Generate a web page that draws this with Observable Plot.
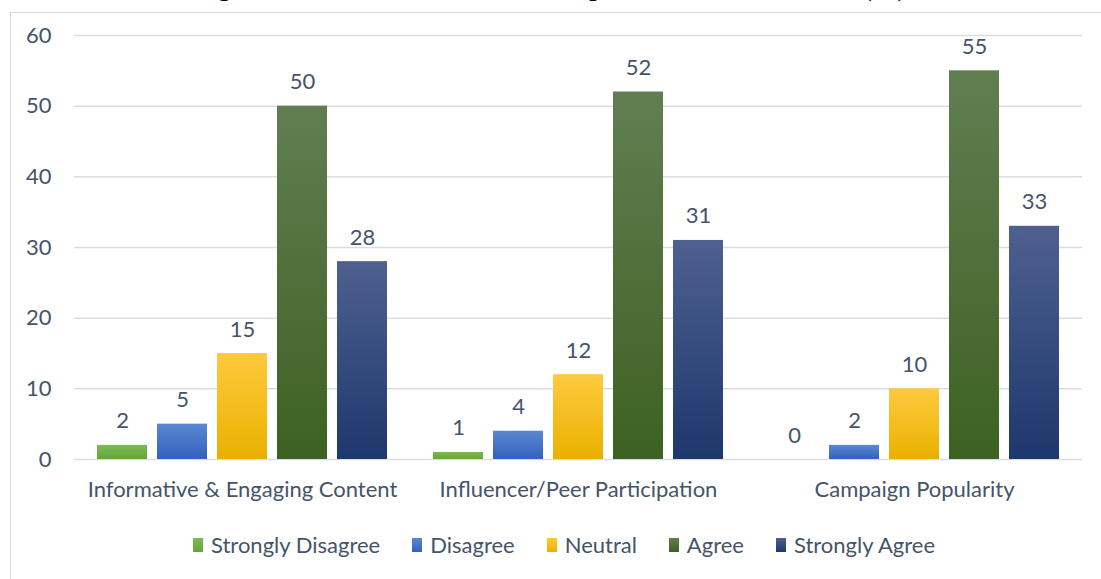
<!DOCTYPE html>
<html>
<head>
<meta charset="utf-8">
<script src="https://cdn.jsdelivr.net/npm/d3@7"></script>
<script src="https://cdn.jsdelivr.net/npm/@observablehq/plot@0.6"></script>
<style>
  html, body { margin: 0; padding: 0; background: #fff; }
  #wrap { position: relative; width: 1101px; height: 579px; overflow: hidden; background: #fff; font-family: Lato, "Noto Sans", sans-serif; }
  #frame { position: absolute; left: 10px; top: 12px; width: 1100px; height: 620px; border: 1px solid #d9d9d9; box-sizing: border-box; }
  #title { position: absolute; left: 0; top: -27px; width: 1101px; text-align: center; font-family: "Liberation Serif", serif; font-weight: bold; font-size: 26px; color: #000; white-space: nowrap; }
  #chart { position: absolute; left: 0; top: 0; }
  #legend { position: absolute; left: 193px; top: 531px; display: flex; align-items: center; font-size: 22px; color: #44546a; white-space: nowrap; }
  .item { display: flex; align-items: center; margin-right: 32px; }
  .sw { width: 10px; height: 14px; margin-right: 8px; }
</style>
</head>
<body>
<div id="wrap">
  <div id="frame"></div>
  <div id="title">Figure 4: Drivers of Student Participation Motivation Level (%)</div>
  <div id="chart"></div>
  <div id="legend"></div>
</div>
<script>
const categories = ["Informative & Engaging Content", "Influencer/Peer Participation", "Campaign Popularity"];
const levels = ["Strongly Disagree", "Disagree", "Neutral", "Agree", "Strongly Agree"];
const stronglyDisagree = [2, 1, 0];
const disagree = [5, 4, 2];
const neutral = [15, 12, 10];
const agree = [50, 52, 55];
const stronglyAgree = [28, 31, 33];
const yTicks = [0, 10, 20, 30, 40, 50, 60];
const gradTop = ["#7db957", "#5b87d2", "#ffca3e", "#617e51", "#4f6090"];
const gradBottom = ["#66a43b", "#3262bf", "#e8b100", "#3d6122", "#1d386c"];

const seriesValues = [stronglyDisagree, disagree, neutral, agree, stronglyAgree];
const data = [];
categories.forEach((c, ci) => {
  levels.forEach((l, li) => data.push({category: c, level: l, value: seriesValues[li][ci]}));
});

const ink = "#44546a";
const gridColor = "#d9dde3";

const defs = () => {
  const svgNS = "http://www.w3.org/2000/svg";
  const d = document.createElementNS(svgNS, "defs");
  levels.forEach((l, i) => {
    const g = document.createElementNS(svgNS, "linearGradient");
    g.setAttribute("id", "grad" + i);
    g.setAttribute("x1", "0"); g.setAttribute("y1", "0");
    g.setAttribute("x2", "0"); g.setAttribute("y2", "1");
    const s1 = document.createElementNS(svgNS, "stop");
    s1.setAttribute("offset", "0"); s1.setAttribute("stop-color", gradTop[i]);
    const s2 = document.createElementNS(svgNS, "stop");
    s2.setAttribute("offset", "1"); s2.setAttribute("stop-color", gradBottom[i]);
    g.appendChild(s1); g.appendChild(s2);
    d.appendChild(g);
  });
  const gEl = document.createElementNS(svgNS, "g");
  gEl.appendChild(d);
  return gEl;
};

const plot = Plot.plot({
  width: 1101,
  height: 510,
  marginLeft: 74,
  marginRight: 19,
  marginTop: 35,
  marginBottom: 51,
  style: {fontFamily: "Lato, 'Noto Sans', sans-serif", fontSize: "22px", color: ink, background: "transparent"},
  fx: {domain: categories, padding: 0, label: null},
  x: {domain: levels, paddingInner: 0.167, paddingOuter: 0.383, axis: null},
  y: {domain: [0, 60], label: null},
  color: {domain: levels, range: levels.map((l, i) => `url(#grad${i})`)},
  marks: [
    defs,
    Plot.gridY(yTicks, {stroke: gridColor, strokeOpacity: 1, strokeWidth: 1.5}),
    Plot.barY(data, {fx: "category", x: "level", y: "value", fill: "level"}),
    Plot.text(data, {fx: "category", x: "level", y: "value", text: d => String(d.value), lineAnchor: "bottom", dy: -17, fill: ink, fontSize: 22}),
    Plot.axisY(yTicks, {tickSize: 0, tickPadding: 23, fill: ink, fontSize: 22, label: null}),
    Plot.axisFx({anchor: "bottom", tickSize: 0, tickPadding: 22, fill: ink, fontSize: 22, label: null})
  ]
});
document.getElementById("chart").appendChild(plot);

const legend = document.getElementById("legend");
levels.forEach((l, i) => {
  const it = document.createElement("div");
  it.className = "item";
  const sw = document.createElement("div");
  sw.className = "sw";
  sw.style.background = `linear-gradient(${gradTop[i]}, ${gradBottom[i]})`;
  const t = document.createElement("span");
  t.textContent = l;
  it.appendChild(sw); it.appendChild(t);
  legend.appendChild(it);
});
</script>
</body>
</html>
